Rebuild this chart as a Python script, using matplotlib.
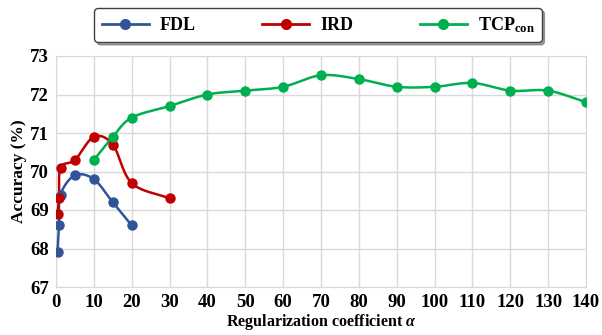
import numpy as np
import matplotlib.pyplot as plt

# data
fdl_x = [0.4, 0.8, 1.2, 5, 10, 15, 20]
fdl_y = [67.9, 68.6, 69.4, 69.9, 69.8, 69.2, 68.6]
ird_x = [0.4, 0.8, 1.2, 5, 10, 15, 20, 30]
ird_y = [68.9, 69.3, 70.1, 70.3, 70.9, 70.7, 69.7, 69.3]
tcp_x = [10, 15, 20, 30, 40, 50, 60, 70, 80, 90, 100, 110, 120, 130, 140]
tcp_y = [70.3, 70.9, 71.4, 71.7, 72.0, 72.1, 72.2, 72.5, 72.4, 72.2, 72.2, 72.3, 72.1, 72.1, 71.8]
labels = ['FDL', 'IRD', r'TCP$_{\mathbf{con}}$']
colors = ['#2f5597', '#c00000', '#00b050']


def smooth(x, y, n=30):
    # Catmull-Rom curve through the points (Excel-style smoothed line)
    x = np.asarray(x, float)
    y = np.asarray(y, float)
    px = np.concatenate([[2 * x[0] - x[1]], x, [2 * x[-1] - x[-2]]])
    py = np.concatenate([[2 * y[0] - y[1]], y, [2 * y[-1] - y[-2]]])
    xs, ys = [], []
    t = np.linspace(0, 1, n)
    for i in range(1, len(px) - 2):
        for p, out in ((px, xs), (py, ys)):
            p0, p1, p2, p3 = p[i - 1], p[i], p[i + 1], p[i + 2]
            m1 = (p2 - p0) / 2
            m2 = (p3 - p1) / 2
            h00 = 2 * t**3 - 3 * t**2 + 1
            h10 = t**3 - 2 * t**2 + t
            h01 = -2 * t**3 + 3 * t**2
            h11 = t**3 - t**2
            out.extend(h00 * p1 + h10 * m1 + h01 * p2 + h11 * m2)
    return xs, ys


plt.rcParams['font.family'] = 'Liberation Serif'
plt.rcParams['font.weight'] = 'bold'
plt.rcParams['mathtext.fontset'] = 'custom'
plt.rcParams['mathtext.rm'] = 'Liberation Serif:bold'
plt.rcParams['mathtext.it'] = 'Liberation Serif:italic:bold'
plt.rcParams['mathtext.bf'] = 'Liberation Serif:bold'

fig = plt.figure(figsize=(6.02, 3.35), dpi=100)
ax = fig.add_axes([56 / 602, 1 - 287 / 335, 530 / 602, 231 / 335])

handles = []
for xs, ys, c, lab in zip([fdl_x, ird_x, tcp_x], [fdl_y, ird_y, tcp_y], colors, labels):
    sx, sy = smooth(xs, ys)
    ax.plot(sx, sy, color=c, lw=1.8, zorder=3)
    ax.plot(xs, ys, 'o', color=c, ms=6.5, zorder=4)
    h, = ax.plot([], [], '-o', color=c, lw=2, ms=7, label=lab)
    handles.append(h)

ax.set_xlim(0, 140)
ax.set_ylim(67, 73)
ax.set_xticks(np.arange(0, 141, 10))
ax.set_yticks(np.arange(67, 74, 1))
ax.grid(True, color='#d9d9d9', lw=1)
ax.set_axisbelow(True)
for s in ax.spines.values():
    s.set_color('#d9d9d9')
ax.tick_params(length=0, labelsize=13.5, pad=5)
ax.set_xlabel(r'Regularization coefficient $\alpha$', fontsize=11.5, fontweight='bold', labelpad=1)
ax.set_ylabel('Accuracy (%)', fontsize=12.5, fontweight='bold', labelpad=2)

leg = fig.legend(handles=handles, loc='center', bbox_to_anchor=(318 / 602, 1 - 25 / 335),
                 ncol=3, frameon=True, fancybox=True, shadow=True, fontsize=13,
                 handlelength=2.6, handletextpad=0.6, columnspacing=3.7,
                 borderpad=0.4, borderaxespad=0, edgecolor='#404040')
leg.get_frame().set_linewidth(1)

fig.savefig('out.png', dpi=100)
